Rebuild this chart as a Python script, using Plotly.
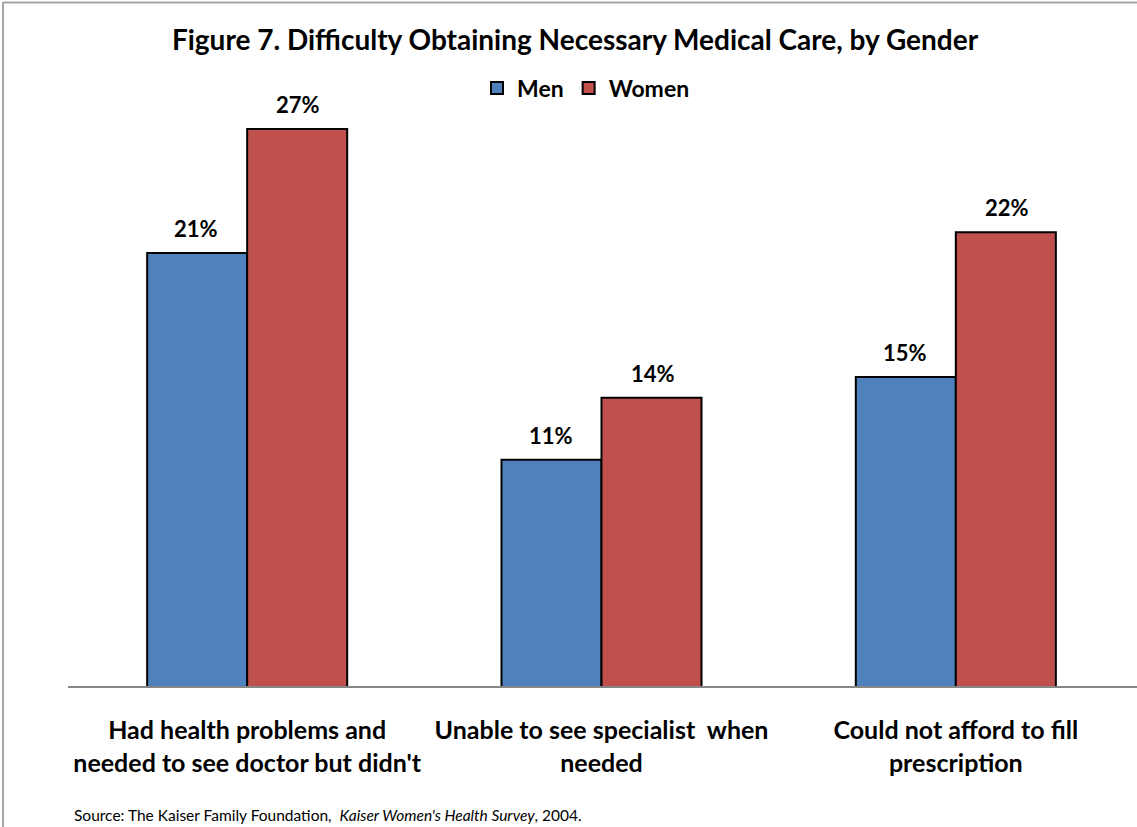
import plotly.graph_objects as go

categories = ["Had health problems and<br>needed to see doctor but didn't",
              "Unable to see specialist  when<br>needed",
              "Could not afford to fill<br>prescription"]
men = [21, 11, 15]
women = [27, 14, 22]
series_names = ["Men", "Women"]
colors = ["#4F81BD", "#C0504D"]

W, H = 1137, 827
L, R, T, B = 70, 4, 67, 140
PW = W - L - R
PH = H - T - B

FONT = "Lato"

fig = go.Figure()
for name, vals, col in zip(series_names, [men, women], colors):
    fig.add_trace(go.Bar(
        name=name, x=categories, y=vals,
        marker=dict(color=col, line=dict(color="black", width=2)),
        cliponaxis=False,
    ))

def px_x(p):
    return (p - L) / PW

def px_y(p):
    return (H - B - p) / PH

annotations = []
for vals, shift in zip([men, women], [-51, 51]):
    for c, v in zip(categories, vals):
        annotations.append(dict(x=c, y=v, xref="x", yref="y", text=f"<b>{v}%</b>",
                                showarrow=False, xshift=shift, yshift=9, yanchor="bottom",
                                font=dict(family=FONT, size=22, color="black")))
annotations.append(dict(text="Source: The Kaiser Family Foundation,  <i>Kaiser Women's Health Survey</i>, 2004.",
                        xref="paper", yref="paper", x=px_x(72), y=px_y(815), xanchor="left", yanchor="middle",
                        showarrow=False, font=dict(family=FONT, size=15.5, color="black")))

shapes = [
    dict(type="line", xref="paper", yref="paper", x0=px_x(3), x1=px_x(W), y0=px_y(2.5), y1=px_y(2.5),
         line=dict(color="#A6A6A6", width=2)),
    dict(type="line", xref="paper", yref="paper", x0=px_x(3), x1=px_x(3), y0=px_y(2), y1=px_y(H),
         line=dict(color="#A6A6A6", width=2)),
    dict(type="line", xref="paper", yref="paper", x0=px_x(68), x1=px_x(W), y0=0, y1=0,
         line=dict(color="#868686", width=2)),
]

fig.update_layout(
    width=W, height=H,
    margin=dict(l=L, r=R, t=T, b=B),
    paper_bgcolor="white", plot_bgcolor="white",
    barmode="group", bargap=0.4355, bargroupgap=0,
    title=dict(text="<b>Figure 7. Difficulty Obtaining Necessary Medical Care, by Gender</b>",
               x=575 / W, xanchor="center", y=1 - 40 / H, yanchor="middle",
               font=dict(family=FONT, size=28, color="black")),
    legend=dict(orientation="h", x=px_x(586), xanchor="center", y=px_y(88), yanchor="middle",
                font=dict(family=FONT, size=23, color="black", weight="bold"),
                itemwidth=30, tracegroupgap=0),
    font=dict(family=FONT),
    shapes=shapes,
    xaxis=dict(showline=False, tickfont=dict(family=FONT, size=25, color="black", weight="bold"),
               ticks="outside", ticklen=21, tickcolor="rgba(0,0,0,0)", showgrid=False),
    yaxis=dict(range=[0, 30], visible=False, showgrid=False),
    annotations=annotations,
)

fig.write_html("out.html", config={"displayModeBar": False},
               post_script="document.body.style.margin='0';document.body.style.overflow='hidden';")
